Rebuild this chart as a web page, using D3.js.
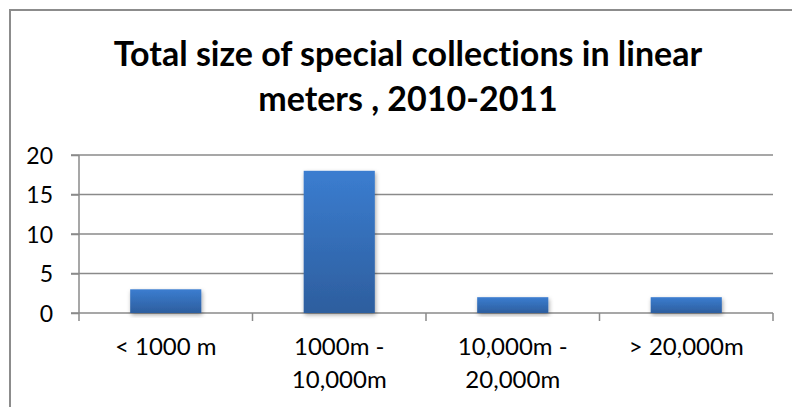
<!DOCTYPE html>
<html><head><meta charset="utf-8">
<script src="https://cdn.jsdelivr.net/npm/d3@7"></script>
<style>
html,body{margin:0;padding:0;background:#fff;}
svg{display:block;}
text{font-family:Lato,"Open Sans",sans-serif;fill:#000;font-variant-ligatures:none;}
</style></head>
<body>
<svg id="chart" width="792" height="407"></svg>
<script>
const categories = [["< 1000 m"], ["1000m -", "10,000m"], ["10,000m -", "20,000m"], ["> 20,000m"]];
const values = [3, 18, 2, 2];
const yTicks = [0, 5, 10, 15, 20];
const titleLines = ["Total size of special collections in linear", "meters , 2010-2011"];

const svg = d3.select("#chart");
const W = 792, H = 407;
const margin = {left: 79, right: 19, top: 155, bottom: 94};

// chart border
svg.append("rect").attr("x", 10).attr("y", 10).attr("width", W + 20).attr("height", H + 20)
  .attr("fill", "#fff").attr("stroke", "#8c8c8c").attr("stroke-width", 2);

const defs = svg.append("defs");
const grad = defs.append("linearGradient").attr("id", "barGrad").attr("x1", 0).attr("y1", 0).attr("x2", 0).attr("y2", 1);
grad.append("stop").attr("offset", "0%").attr("stop-color", "#3b7dd0");
grad.append("stop").attr("offset", "100%").attr("stop-color", "#2d5e9e");
const flt = defs.append("filter").attr("id", "shadow").attr("x", "-20%").attr("y", "-20%").attr("width", "140%").attr("height", "140%");
flt.append("feDropShadow").attr("dx", 1).attr("dy", 2).attr("stdDeviation", 2).attr("flood-color", "#000").attr("flood-opacity", 0.35);

const x = d3.scaleBand().domain(d3.range(categories.length)).range([margin.left, W - margin.right]).paddingInner(0.59).paddingOuter(0.295);
const y = d3.scaleLinear().domain([0, 20]).range([H - margin.bottom, margin.top]);

// title
svg.append("text").attr("x", 408).attr("text-anchor", "middle").style("font-weight", "bold").style("font-size", "34px")
  .selectAll("tspan").data(titleLines).join("tspan").attr("x", 408).attr("y", (d, i) => 66 + i * 45).text(d => d);

// gridlines
const gridColor = "#8a8a8a";
svg.append("g").selectAll("line").data(yTicks).join("line")
  .attr("x1", margin.left - 8).attr("x2", W - margin.right)
  .attr("y1", d => y(d)).attr("y2", d => y(d))
  .attr("stroke", gridColor).attr("stroke-width", 1.5);

// y axis
const yAxis = svg.append("g").attr("transform", `translate(${margin.left},0)`)
  .call(d3.axisLeft(y).tickValues(yTicks).tickSize(8).tickPadding(18));
yAxis.select(".domain").attr("stroke", gridColor).attr("stroke-width", 1.5).attr("d", `M0,${y(0)+8}V${y(20)}`);
yAxis.selectAll(".tick line").attr("stroke", gridColor).attr("stroke-width", 1.5);
yAxis.selectAll(".tick text").style("font-size", "23px").style("font-family", "Lato,'Open Sans',sans-serif").attr("dy", "0.35em");

// x axis category boundary ticks
const bounds = d3.range(categories.length + 1).map(i => margin.left + i * ((W - margin.right - margin.left) / categories.length));
svg.append("g").selectAll("line").data(bounds.slice(1)).join("line")
  .attr("x1", d => d).attr("x2", d => d).attr("y1", y(0)).attr("y2", y(0) + 8)
  .attr("stroke", gridColor).attr("stroke-width", 1.5);

// bars
svg.append("g").selectAll("rect").data(values).join("rect")
  .attr("x", (d, i) => x(i)).attr("width", x.bandwidth())
  .attr("y", d => y(d)).attr("height", d => y(0) - y(d))
  .attr("fill", "url(#barGrad)").attr("filter", "url(#shadow)");

// category labels
const lab = svg.append("g").selectAll("text").data(categories).join("text")
  .attr("text-anchor", "middle").style("font-size", "24px");
lab.selectAll("tspan").data((d, i) => d.map(t => ({t, i}))).join("tspan")
  .attr("x", d => x(d.i) + x.bandwidth() / 2)
  .attr("y", (d, j) => 355 + j * 33)
  .text(d => d.t);
</script>
</body></html>
